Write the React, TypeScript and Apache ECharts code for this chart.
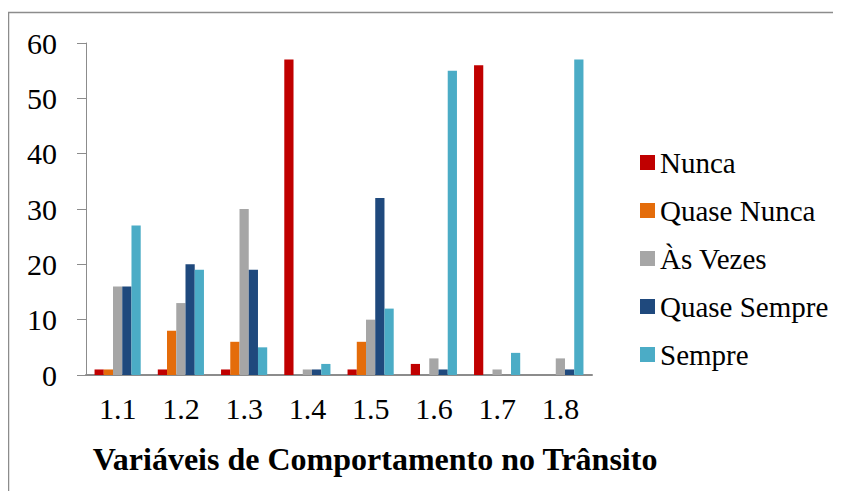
import React, { useEffect, useRef } from "react";
import * as echarts from "echarts";

const categories = ["1.1", "1.2", "1.3", "1.4", "1.5", "1.6", "1.7", "1.8"];
const seriesNames = ["Nunca", "Quase Nunca", "Às Vezes", "Quase Sempre", "Sempre"];
const nunca = [1, 1, 1, 57, 1, 2, 56, 0];
const quaseNunca = [1, 8, 6, 0, 6, 0, 0, 0];
const asVezes = [16, 13, 30, 1, 10, 3, 1, 3];
const quaseSempre = [16, 20, 19, 1, 32, 1, 0, 1];
const sempre = [27, 19, 5, 2, 12, 55, 4, 57];
const colors = ["#C00000", "#E46C0A", "#A6A6A6", "#1F497D", "#4BACC6"];
const yTicks = [0, 10, 20, 30, 40, 50, 60];

export default function App() {
  const ref = useRef<HTMLDivElement>(null);
  useEffect(() => {
    if (!ref.current) return;
    const chart = echarts.init(ref.current, null, { renderer: "svg" });
    const font = "Liberation Serif";
    const data = [nunca, quaseNunca, asVezes, quaseSempre, sempre];
    chart.setOption({
      animation: false,
      textStyle: { fontFamily: font },
      graphic: [
        {
          type: "rect",
          shape: { x: 0.5, y: 4.5, width: 860, height: 520 },
          style: { fill: "none", stroke: "#8c8c8c", lineWidth: 1.5 },
          silent: true,
        },
      ],
      grid: { left: 78, right: 249, top: 35, bottom: 116 },
      legend: {
        orient: "vertical",
        left: 627,
        top: 135,
        itemWidth: 15,
        itemHeight: 15,
        itemGap: 19,
        icon: "rect",
        textStyle: { fontFamily: font, fontSize: 29, color: "#000" },
        data: seriesNames,
      },
      xAxis: {
        type: "category",
        data: categories,
        axisLine: { lineStyle: { color: "#8c8c8c", width: 2 } },
        axisTick: { show: false },
        axisLabel: { fontFamily: font, fontSize: 30, color: "#000", margin: 18 },
        name: "Variáveis de Comportamento no Trânsito",
        nameLocation: "middle",
        nameGap: 68,
        nameTextStyle: { fontFamily: font, fontSize: 32, fontWeight: "bold", color: "#000", padding: [0, 0, 0, 72] },
      },
      yAxis: {
        type: "value",
        min: 0,
        max: 60,
        interval: 10,
        axisLine: { show: true, lineStyle: { color: "#8c8c8c", width: 1 } },
        axisTick: { show: true, length: 9, lineStyle: { color: "#8c8c8c" } },
        splitLine: { show: false },
        axisLabel: {
          fontFamily: font,
          fontSize: 30,
          color: "#000",
          margin: 29,
          formatter: (v: number) => (yTicks.includes(v) ? String(v) : ""),
        },
      },
      series: seriesNames.map((name, i) => ({
        name,
        type: "bar",
        data: data[i],
        barGap: "0%",
        barCategoryGap: "27%",
        itemStyle: { color: colors[i] },
      })),
    });
    return () => chart.dispose();
  }, []);
  return <div ref={ref} style={{ width: 833, height: 483 }} />;
}
